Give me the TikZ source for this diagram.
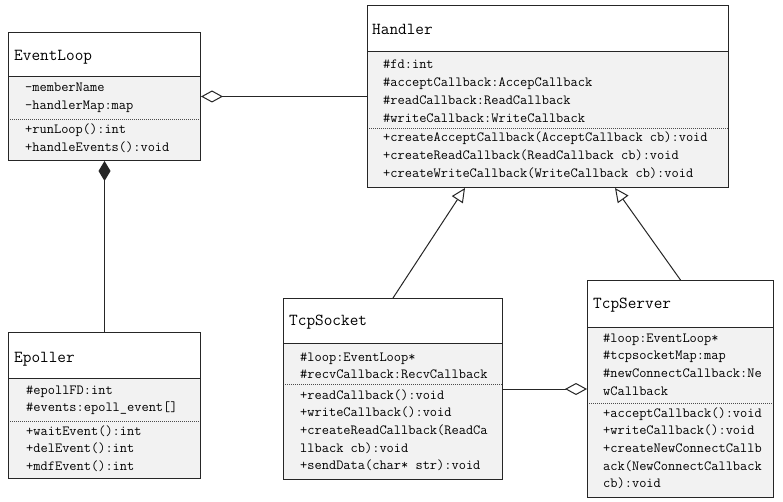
\documentclass[tikz,border=0pt]{standalone}
\usetikzlibrary{arrows.meta}
\definecolor{bodygray}{HTML}{F2F2F2}
\definecolor{edgeink}{HTML}{262626}

% class box: name, x1, y1, x2, y2, title separator y, dotted separator y
\newcommand\umlbox[7]{%
  \fill[bodygray] (#2,#6) rectangle (#4,#5);
  \draw[sepline] (#2,#6) -- (#4,#6);
  \draw[dotline] (#2,#7) -- (#4,#7);
  \node[box, minimum width={(#4-#2)*1pt}, minimum height={(#5-#3)*1pt}] (#1) at (#2,#3) {};
}
% rows of members: name prefix, x, first baseline, list
\newcommand\umlrows[4]{%
  \foreach \txt [count=\k] in {#4}
    \node[member] (#1-\k) at (#2,{#3+(\k-1)*17.7}) {\txt};
}

\begin{document}
\begin{tikzpicture}[x=1pt,y=-1pt,
  box/.style={draw=edgeink, line width=1pt, rectangle, inner sep=0pt, anchor=north west},
  sepline/.style={draw=edgeink, line width=1pt},
  dotline/.style={draw=black!70, line width=0.8pt, dash pattern=on 1pt off 1pt},
  title/.style={anchor=base west, inner sep=0pt, font=\ttfamily\fontsize{16.8}{18}\selectfont},
  member/.style={anchor=base west, inner sep=0pt, font=\ttfamily\fontsize{14}{16}\selectfont},
  link/.style={draw=edgeink, line width=1pt},
  hollowdiamond/.tip={Diamond[fill=white, length=22pt, width=12pt]},
  fulldiamond/.tip={Diamond[fill=edgeink, length=20pt, width=12pt]},
  inherit/.tip={Triangle[fill=white, length=14pt, width=13pt]}]

\fill[white] (0,0) rectangle (783,502);
\useasboundingbox (0,0) rectangle (783,502);

% EventLoop
\umlbox{eventloop}{8}{32}{200}{160}{77}{119}
\node[title] (eventloop-title) at (14,60.5) {EventLoop};
\umlrows{eventloop-attr}{25}{91.5}{-memberName, -handlerMap:map}
\umlrows{eventloop-op}{25}{133.5}{+runLoop():int, +handleEvents():void}

% Handler
\umlbox{handler}{367}{5}{728}{187}{52}{128}
\node[title] (handler-title) at (372,34.5) {Handler};
\umlrows{handler-attr}{383}{69}{\#fd:int, \#acceptCallback:AccepCallback, \#readCallback:ReadCallback, \#writeCallback:WriteCallback}
\umlrows{handler-op}{383}{142}{+createAcceptCallback(AcceptCallback cb):void, +createReadCallback(ReadCallback cb):void, +createWriteCallback(WriteCallback cb):void}

% Epoller
\umlbox{epoller}{8}{332}{200}{478}{378}{421}
\node[title] (epoller-title) at (14,362.5) {Epoller};
\umlrows{epoller-attr}{26}{394}{\#epollFD:int, \#events:epoll\_event[]}
\umlrows{epoller-op}{26}{435}{+waitEvent():int, +delEvent():int, +mdfEvent():int}

% TcpSocket
\umlbox{tcpsocket}{283}{298}{502}{479}{343}{384}
\node[title] (tcpsocket-title) at (289,325.5) {TcpSocket};
\umlrows{tcpsocket-attr}{300}{361}{\#loop:EventLoop*, \#recvCallback:RecvCallback}
\umlrows{tcpsocket-op}{300}{399}{+readCallback():void, +writeCallback():void, +createReadCallback(ReadCa, llback cb):void, +sendData(char* str):void}

% TcpServer
\umlbox{tcpserver}{587}{280}{773}{497}{327}{403}
\node[title] (tcpserver-title) at (593,308.5) {TcpServer};
\umlrows{tcpserver-attr}{603}{342}{\#loop:EventLoop*, \#tcpsocketMap:map, \#newConnectCallback:Ne, wCallback}
\umlrows{tcpserver-op}{603}{417}{+acceptCallback():void, +writeCallback():void, +createNewConnectCallb, ack(NewConnectCallback, cb):void}

% relations
\draw[link, hollowdiamond-] (eventloop.east) -- (handler.west);
\draw[link, fulldiamond-] (eventloop.south) -- (epoller.north);
\draw[link, -inherit] (tcpsocket.north) -- ([xshift=98pt]handler.south west);
\draw[link, -inherit] (tcpserver.north) -- ([xshift=248pt]handler.south west);
\draw[link, -hollowdiamond] (tcpsocket.east |- tcpserver.west) -- (tcpserver.west);
\end{tikzpicture}
\end{document}
